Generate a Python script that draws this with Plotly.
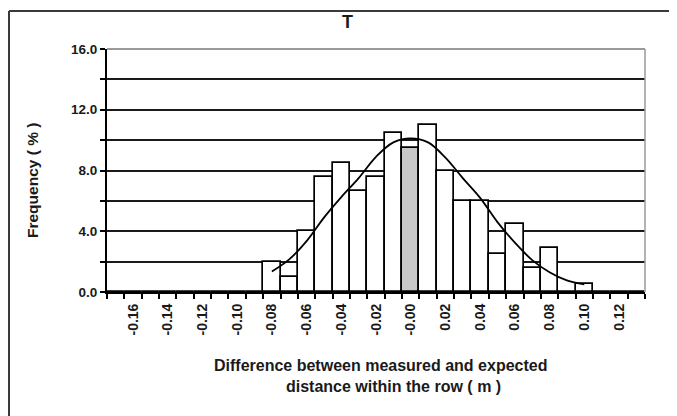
import plotly.graph_objects as go

# ---- data ----
bin_centers = [-0.17, -0.16, -0.15, -0.14, -0.13, -0.12, -0.11, -0.10, -0.09,
               -0.08, -0.07, -0.06, -0.05, -0.04, -0.03, -0.02, -0.01, 0.00,
               0.01, 0.02, 0.03, 0.04, 0.05, 0.06, 0.07, 0.08, 0.09, 0.10,
               0.11, 0.12, 0.13]
frequency = [0, 0, 0, 0, 0, 0, 0, 0, 0,
             2.0, 1.0, 4.0, 7.6, 8.5, 6.65, 7.6, 10.5, 9.5,
             11.0, 8.0, 6.0, 6.0, 2.5, 4.5, 1.6, 2.9, 0, 0.5,
             0, 0, 0]
highlight_bin = 0.00

curve_x = [-0.08, -0.07, -0.06, -0.05, -0.04, -0.03, -0.02, -0.01, 0.00,
           0.01, 0.02, 0.03, 0.04, 0.05, 0.06, 0.07, 0.08, 0.09, 0.10]
curve_y = [1.35, 2.15, 3.35, 4.9, 6.25, 7.5, 8.9, 9.85, 10.12,
           9.85, 8.85, 7.5, 6.2, 4.6, 3.25, 2.1, 1.3, 0.76, 0.5]

x_tickvals = [-0.16, -0.14, -0.12, -0.10, -0.08, -0.06, -0.04, -0.02, 0.00,
              0.02, 0.04, 0.06, 0.08, 0.10, 0.12]
x_ticktext = ["-0.16", "-0.14", "-0.12", "-0.10", "-0.08", "-0.06", "-0.04",
              "-0.02", "-0.00", "0.02", "0.04", "0.06", "0.08", "0.10", "0.12"]
y_tickvals = [0, 4, 8, 12, 16]

title_text = "T"
y_title = "Frequency ( % )"
x_title_1 = "Difference between measured and expected"
x_title_2 = "distance within the row ( m )"

FONT = "Liberation Sans, Arial, sans-serif"
TXT = "#1a1a1a"

bar_colors = ["#c8c8c8" if abs(c - highlight_bin) < 1e-9 else "white" for c in bin_centers]

fig = go.Figure()
fig.add_trace(go.Bar(
    x=bin_centers, y=frequency, width=0.01,
    marker=dict(color=bar_colors, line=dict(color="black", width=1.7)),
    showlegend=False, hoverinfo="skip",
))
fig.add_trace(go.Scatter(
    x=curve_x, y=curve_y, mode="lines",
    line=dict(color="black", width=1.8, shape="spline", smoothing=1.0),
    showlegend=False, hoverinfo="skip",
))

# page has an 8px body margin: work in page pixels, convert to figure pixels
OFF = 8
W, H = 677 - OFF, 416 - OFF
PL, PR, PT, PB = 107, 645, 49, 292          # plot area in page pixels
L, T = PL - OFF, PT - OFF
R, B = W - (PR - OFF), H - (PB - OFF)
pw, ph = PR - PL, PB - PT


def px2paper(px, py):
    return (px - PL) / pw, (PB - py) / ph


fig.update_layout(
    width=W, height=H,
    margin=dict(l=L, r=R, t=T, b=B),
    paper_bgcolor="white", plot_bgcolor="white",
    bargap=0,
    font=dict(family=FONT, color=TXT),
    xaxis=dict(
        range=[-0.175, 0.135],
        tickmode="array", tickvals=x_tickvals, ticktext=x_ticktext,
        tickangle=-90,
        ticks="outside", ticklen=4, tickcolor="rgba(0,0,0,0)",
        tickfont=dict(size=14, family=FONT, color=TXT, weight="bold"),
        showgrid=False, zeroline=False,
        showline=True, linecolor="black", linewidth=2,
        minor=dict(tickmode="linear", tick0=-0.175, dtick=0.01,
                   ticks="outside", ticklen=5, tickcolor="black", tickwidth=1.5,
                   showgrid=False),
        fixedrange=True,
    ),
    yaxis=dict(
        range=[0, 16],
        tickmode="array", tickvals=y_tickvals, tickformat=".1f",
        ticks="outside", ticklen=5, tickcolor="black", tickwidth=1.5,
        tickfont=dict(size=13.5, family=FONT, color=TXT, weight="bold"),
        showgrid=True, gridcolor="#1a1a1a", gridwidth=1.5,
        zeroline=False,
        showline=True, linecolor="black", linewidth=2,
        minor=dict(tickmode="linear", tick0=0, dtick=2,
                   ticks="outside", ticklen=5, tickcolor="black", tickwidth=1.5,
                   showgrid=True, gridcolor="#1a1a1a", gridwidth=1.5),
        fixedrange=True,
    ),
)

# plot-area top & right border (grey)
fig.add_shape(type="line", xref="paper", yref="paper", x0=0, x1=1, y0=1, y1=1,
              line=dict(color="#9a9a9a", width=2), layer="above")
fig.add_shape(type="line", xref="paper", yref="paper", x0=1, x1=1, y0=0, y1=1,
              line=dict(color="#9a9a9a", width=1.5), layer="above")

# outer chart frame: dark top/left, faint right, bottom cut off
fl, ft = px2paper(9, 11)
fr, fb = px2paper(675, 416)
fig.add_shape(type="line", xref="paper", yref="paper", x0=fl, x1=fr, y0=ft, y1=ft,
              line=dict(color="#3a3a3a", width=2), layer="above")
fig.add_shape(type="line", xref="paper", yref="paper", x0=fl, x1=fl, y0=ft, y1=fb,
              line=dict(color="#3a3a3a", width=2), layer="above")
fig.add_shape(type="line", xref="paper", yref="paper", x0=fr, x1=fr, y0=ft, y1=fb,
              line=dict(color="#dddddd", width=1.5), layer="above")

# texts
tx, ty = px2paper(347, 22)
fig.add_annotation(text=title_text, xref="paper", yref="paper", x=tx, y=ty,
                   showarrow=False, xanchor="center", yanchor="middle",
                   font=dict(size=18, family=FONT, color=TXT, weight="bold"))
ax, ay = px2paper(32, 181)
fig.add_annotation(text=y_title, xref="paper", yref="paper", x=ax, y=ay,
                   showarrow=False, textangle=-90, xanchor="center", yanchor="middle",
                   font=dict(size=15.5, family=FONT, color=TXT, weight="bold"))
bx, by = px2paper(380, 365)
fig.add_annotation(text=x_title_1, xref="paper", yref="paper", x=bx, y=by,
                   showarrow=False, xanchor="center", yanchor="middle",
                   font=dict(size=16, family=FONT, color=TXT, weight="bold"))
cx, cy = px2paper(393, 386)
fig.add_annotation(text=x_title_2, xref="paper", yref="paper", x=cx, y=cy,
                   showarrow=False, xanchor="center", yanchor="middle",
                   font=dict(size=16, family=FONT, color=TXT, weight="bold"))

fig.write_html("out.html")
